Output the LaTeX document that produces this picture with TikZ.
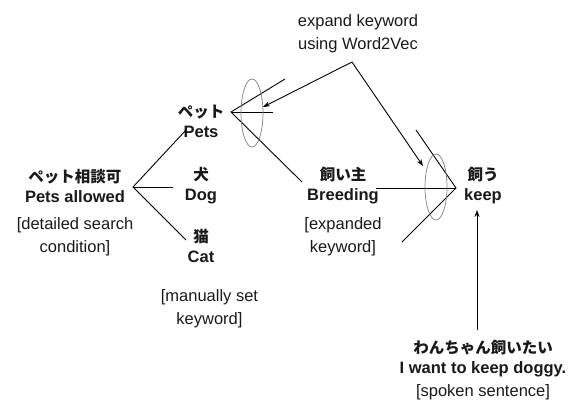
\documentclass[tikz,border=0pt]{standalone}
\usepackage{fontspec}
\setmainfont{Liberation Sans}
\newfontfamily\jp{Noto Sans CJK JP}
\usetikzlibrary{arrows.meta}
\tikzset{
  lbl/.style={align=center, inner sep=0pt, text=black!90, font=\fontsize{16.5}{20}\selectfont\bfseries},
  note/.style={align=center, inner sep=0pt, text=black!90, font=\fontsize{16.5}{23}\selectfont},
  conn/.style={line width=0.9pt, black},
  arr/.style={conn, -{Stealth[length=7pt,width=5pt]}},
  ring/.style={draw=gray, line width=0.7pt}
}
\newcommand{\jpl}[1]{{\jp\fontsize{15.5}{20}\selectfont #1}}
\begin{document}
\begin{tikzpicture}[x=1pt,y=-1pt]
\useasboundingbox (0,0) rectangle (579,405);
% texts
\node[note] (w2v) at (358,33.5) {expand keyword\\using Word2Vec};
\node[lbl] (pets) at (201,121) {\jpl{ペット}\\Pets};
\node[lbl] (pa) at (75,186) {\jpl{ペット相談可}\\Pets allowed};
\node[note] (pacond) at (75,236.5) {[detailed search\\condition]};
\node[lbl] (dog) at (201,186) {\jpl{犬}\\Dog};
\node[lbl] (cat) at (201,246) {\jpl{猫}\\Cat};
\node[note] (manual) at (209.5,308.5) {[manually set\\keyword]};
\node[lbl] (breed) at (343,186) {\jpl{飼い主}\\Breeding};
\node[note] (expnote) at (343,236.5) {[expanded\\keyword]};
\node[lbl] (keep) at (483,186) {\jpl{飼う}\\keep};
\node[lbl] (spoken) at (483,358.5) {\jpl{わんちゃん飼いたい}\\I want to keep doggy.};
\node[note] (spnote) at (483,392) {[spoken sentence]};
% coordinates
\coordinate (paA) at (133,187);
\coordinate (paUp) at (186,130);
\coordinate (paMid) at (173,187);
\coordinate (paDn) at (186,240);
\coordinate (ptA) at (231,112);
\coordinate (ptUp) at (285,79);
\coordinate (ptMid) at (273,112);
\coordinate (ptDn) at (302,182);
\coordinate (kA) at (456,188);
\coordinate (kMid) at (376,188);
\coordinate (kUp) at (416,130);
\coordinate (kDn) at (402,242);
\coordinate (top) at (352,62);
\coordinate (tipL) at (263,107);
\coordinate (tipR) at (423,166);
\coordinate (spUp) at (477,330);
\coordinate (kTip) at (477,210);
% fans
\draw[conn] (paUp) -- (paA) -- (paDn);
\draw[conn] (paA) -- (paMid);
\draw[conn] (ptUp) -- (ptA) -- (ptDn);
\draw[conn] (ptA) -- (ptMid);
\draw[conn] (kUp) -- (kA) -- (kDn);
\draw[conn] (kMid) -- (kA);
% rings
\draw[ring] (252,113) ellipse [x radius=11, y radius=34];
\draw[ring] (436,187) ellipse [x radius=11, y radius=33];
% arrows
\draw[arr] (top) -- (tipL);
\draw[arr] (top) -- (tipR);
\draw[arr] (spUp) -- (kTip);
\end{tikzpicture}
\end{document}
